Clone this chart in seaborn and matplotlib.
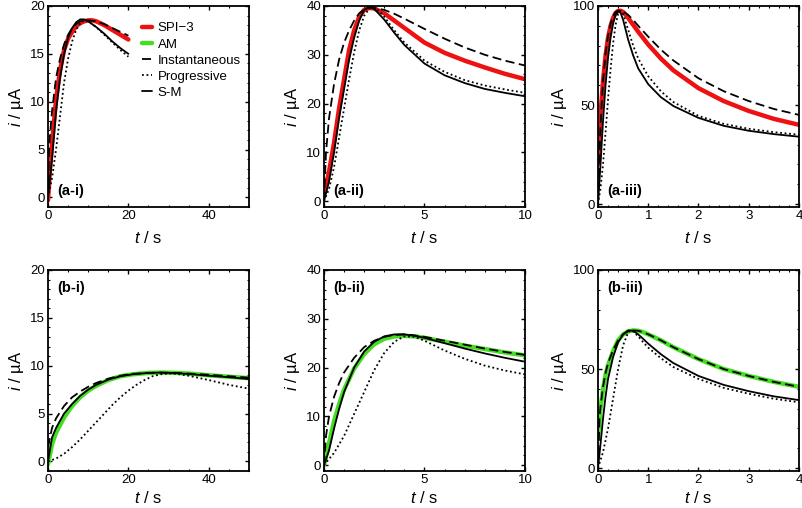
import numpy as np
import pandas as pd
import matplotlib
matplotlib.use("Agg")
import matplotlib.pyplot as plt
from matplotlib.lines import Line2D
import seaborn as sns

# ---------------- data ----------------
# Panel a-i
ai_spi_t = [0, 0.5, 1, 2, 3, 4, 5, 6, 7, 8, 9, 10, 11, 12, 14, 16, 18, 20]
ai_spi_i = [-0.3, 3.0, 5.6, 10.2, 13.3, 15.4, 16.6, 17.3, 17.9, 18.2, 18.4, 18.5, 18.5, 18.4, 18.0, 17.5, 17.0, 16.5]
ai_ins_t = [0, 0.3, 1, 2, 3, 4, 5, 6, 7, 8, 9, 10, 12, 14, 16, 18, 20]
ai_ins_i = [0, 5.5, 9.0, 12.5, 14.5, 16.0, 17.0, 17.7, 18.1, 18.4, 18.5, 18.5, 18.4, 18.1, 17.7, 17.3, 16.9]
ai_pro_t = [0, 1, 2, 3, 4, 5, 6, 7, 8, 9, 10, 12, 14, 16, 18, 20]
ai_pro_i = [0, 2.0, 5.0, 8.5, 12.0, 14.5, 16.3, 17.5, 18.2, 18.5, 18.4, 17.8, 17.0, 16.2, 15.4, 14.7]
ai_sm_t = [0, 1, 2, 3, 4, 5, 6, 7, 8, 9, 10, 12, 14, 16, 18, 20]
ai_sm_i = [0, 4.0, 9.0, 12.5, 15.0, 16.7, 17.7, 18.3, 18.6, 18.6, 18.4, 17.8, 17.1, 16.3, 15.6, 15.0]

# Panel a-ii
aii_spi_t = [0, 0.25, 0.5, 0.75, 1.0, 1.25, 1.5, 1.75, 2.0, 2.25, 2.5, 3, 3.5, 4, 5, 6, 7, 8, 9, 10]
aii_spi_i = [1.5, 6, 12, 19, 25, 31, 35, 37.8, 39.2, 39.6, 39.5, 38.5, 37.0, 35.5, 32.5, 30.4, 28.8, 27.4, 26.1, 25.0]
aii_ins_t = [0, 0.1, 0.25, 0.5, 0.75, 1.0, 1.25, 1.5, 1.75, 2.0, 2.25, 2.5, 3, 3.5, 4, 5, 6, 7, 8, 9, 10]
aii_ins_i = [0, 10, 17, 24, 29, 32.5, 35, 37, 38.5, 39.3, 39.6, 39.6, 39.2, 38.4, 37.4, 35.3, 33.3, 31.5, 30.0, 28.8, 27.8]
aii_pro_t = [0, 0.25, 0.5, 0.75, 1.0, 1.25, 1.5, 1.75, 2.0, 2.25, 2.5, 2.75, 3, 3.5, 4, 5, 6, 7, 8, 9, 10]
aii_pro_i = [0, 2.5, 7, 13, 19, 25, 30.5, 35, 38, 39.5, 39.6, 39.0, 37.8, 35.0, 32.5, 28.8, 26.5, 24.8, 23.7, 22.9, 22.2]
aii_sm_t = [0, 0.25, 0.5, 0.75, 1.0, 1.25, 1.5, 1.75, 2.0, 2.25, 2.5, 3, 3.5, 4, 5, 6, 7, 8, 9, 10]
aii_sm_i = [0, 4, 10, 17, 23, 29, 33.5, 37, 39.2, 39.8, 39.4, 37.2, 34.5, 32.0, 28.2, 25.8, 24.2, 23.0, 22.2, 21.5]

# Panel a-iii
aiii_spi_t = [0, 0.05, 0.1, 0.15, 0.2, 0.25, 0.3, 0.35, 0.4, 0.45, 0.5, 0.6, 0.7, 0.8, 1.0, 1.25, 1.5, 2.0, 2.5, 3, 3.5, 4]
aiii_spi_i = [20, 45, 62, 75, 84, 90, 94, 96.5, 97.5, 97.6, 97, 94, 90.5, 87, 80.5, 73.5, 67.5, 58.5, 52, 47, 43, 40]
aiii_ins_t = [0, 0.05, 0.1, 0.15, 0.2, 0.25, 0.3, 0.35, 0.4, 0.45, 0.5, 0.6, 0.7, 0.8, 1.0, 1.25, 1.5, 2.0, 2.5, 3, 3.5, 4]
aiii_ins_i = [0, 40, 62, 76, 85, 91, 95, 97, 97.7, 97.7, 97.3, 95.5, 93, 90, 84.5, 78, 72.5, 63.5, 57, 52, 48, 45]
aiii_pro_t = [0, 0.05, 0.1, 0.15, 0.2, 0.25, 0.3, 0.35, 0.4, 0.45, 0.5, 0.55, 0.6, 0.7, 0.8, 1.0, 1.25, 1.5, 2.0, 2.5, 3, 3.5, 4]
aiii_pro_i = [0, 8, 20, 36, 53, 68, 81, 90.5, 96, 97.6, 96, 92, 88, 80, 73.5, 64.5, 57, 51.5, 44.5, 40.5, 38, 36.3, 35]
aiii_sm_t = [0, 0.05, 0.1, 0.15, 0.2, 0.25, 0.3, 0.35, 0.4, 0.45, 0.5, 0.55, 0.6, 0.7, 0.8, 1.0, 1.25, 1.5, 2.0, 2.5, 3, 3.5, 4]
aiii_sm_i = [0, 20, 42, 60, 74, 84, 91, 95.5, 97.5, 96.5, 93, 88, 83, 75, 68.5, 60.5, 54, 49.5, 43.5, 39.5, 37, 35.3, 34]

# Panel b-i
bi_am_t = [0, 1, 2, 4, 6, 8, 10, 12, 15, 18, 21, 25, 28, 32, 36, 40, 45, 50]
bi_am_i = [-0.3, 1.8, 3.0, 4.6, 5.8, 6.7, 7.4, 7.9, 8.5, 8.9, 9.1, 9.25, 9.28, 9.25, 9.15, 9.0, 8.85, 8.7]
bi_ins_t = [0, 1, 2, 4, 6, 8, 10, 12, 15, 18, 21, 25, 28, 32, 36, 40, 45, 50]
bi_ins_i = [1.5, 3.5, 4.5, 5.8, 6.7, 7.3, 7.8, 8.2, 8.65, 8.95, 9.15, 9.25, 9.28, 9.25, 9.15, 9.05, 8.9, 8.75]
bi_pro_t = [0, 2, 4, 6, 8, 10, 12, 14, 16, 18, 20, 22, 24, 26, 28, 30, 32, 35, 40, 45, 50]
bi_pro_i = [0, 0.3, 0.8, 1.5, 2.3, 3.2, 4.1, 5.0, 5.9, 6.7, 7.4, 8.0, 8.5, 8.9, 9.1, 9.2, 9.15, 8.95, 8.5, 8.0, 7.6]
bi_sm_t = [0, 1, 2, 4, 6, 8, 10, 12, 15, 18, 21, 25, 28, 32, 36, 40, 45, 50]
bi_sm_i = [0, 2.5, 3.5, 5.0, 6.0, 6.85, 7.5, 8.0, 8.55, 8.9, 9.1, 9.25, 9.28, 9.22, 9.1, 8.95, 8.8, 8.6]

# Panel b-ii
bii_am_t = [0, 0.25, 0.5, 0.75, 1.0, 1.5, 2.0, 2.5, 3.0, 3.5, 4.0, 4.5, 5, 6, 7, 8, 9, 10]
bii_am_i = [0, 4.5, 9, 12.5, 15.5, 19.8, 22.8, 24.8, 25.9, 26.4, 26.5, 26.4, 26.1, 25.3, 24.5, 23.8, 23.1, 22.5]
bii_ins_t = [0, 0.1, 0.25, 0.5, 0.75, 1.0, 1.5, 2, 2.5, 3, 3.5, 4, 4.5, 5, 6, 7, 8, 9, 10]
bii_ins_i = [0, 6, 10, 14, 16.8, 19, 22, 24.2, 25.5, 26.3, 26.7, 26.8, 26.6, 26.3, 25.5, 24.7, 23.9, 23.2, 22.6]
bii_pro_t = [0, 0.5, 1.0, 1.5, 2, 2.5, 3, 3.5, 4, 4.5, 5, 6, 7, 8, 9, 10]
bii_pro_i = [0, 2.5, 6, 10.5, 15, 19.5, 23, 25.3, 26.4, 26.3, 25.5, 23.5, 21.8, 20.4, 19.4, 18.6]
bii_sm_t = [0, 0.25, 0.5, 0.75, 1.0, 1.5, 2.0, 2.5, 3, 3.5, 4, 4.5, 5, 6, 7, 8, 9, 10]
bii_sm_i = [0, 3, 7.5, 11.5, 15, 20, 23.3, 25.3, 26.4, 26.8, 26.8, 26.5, 26.1, 25.0, 23.9, 22.9, 22.0, 21.2]

# Panel b-iii
biii_am_t = [0, 0.05, 0.1, 0.15, 0.2, 0.3, 0.4, 0.5, 0.6, 0.7, 0.8, 0.9, 1.0, 1.25, 1.5, 2.0, 2.5, 3, 3.5, 4]
biii_am_i = [15, 30, 40, 47, 52, 59, 64.5, 67.5, 69, 69.5, 69.3, 68.6, 67.5, 64.5, 61, 55, 50, 46.5, 43.5, 41]
biii_ins_t = [0, 0.03, 0.05, 0.1, 0.15, 0.2, 0.3, 0.4, 0.5, 0.6, 0.7, 0.8, 0.9, 1.0, 1.25, 1.5, 2.0, 2.5, 3, 3.5, 4]
biii_ins_i = [0, 25, 31, 41, 48, 53, 59.5, 64.5, 67.5, 69, 69.5, 69.3, 68.6, 67.5, 64.5, 61, 55, 50, 46.5, 43.5, 41]
biii_pro_t = [0, 0.1, 0.2, 0.3, 0.4, 0.5, 0.6, 0.65, 0.7, 0.8, 0.9, 1.0, 1.25, 1.5, 2, 2.5, 3, 3.5, 4]
biii_pro_i = [0, 8, 20, 35, 50, 62, 68.5, 69.5, 69, 66.5, 63.5, 60.8, 55.5, 51, 45, 40.5, 37.5, 35, 33.2]
biii_sm_t = [0, 0.05, 0.1, 0.15, 0.2, 0.3, 0.4, 0.5, 0.6, 0.7, 0.8, 0.9, 1.0, 1.25, 1.5, 2.0, 2.5, 3, 3.5, 4]
biii_sm_i = [0, 12, 25, 36, 45, 56, 63.5, 67.5, 69.5, 69.3, 67.5, 65.2, 62.8, 57.5, 53, 46.5, 42, 38.8, 36.2, 34.3]

panel_labels = ["(a-i)", "(a-ii)", "(a-iii)", "(b-i)", "(b-ii)", "(b-iii)"]
x_limits = [50, 10, 4, 50, 10, 4]
y_limits = [20, 40, 100, 20, 40, 100]
x_ticks = [[0, 20, 40], [0, 5, 10], [0, 1, 2, 3, 4]] * 2
y_ticks = [[0, 5, 10, 15, 20], [0, 10, 20, 30, 40], [0, 50, 100]] * 2

series_names = ["SPI−3", "AM", "Instantaneous", "Progressive", "S-M"]

panels = [
    {"SPI−3": (ai_spi_t, ai_spi_i), "Instantaneous": (ai_ins_t, ai_ins_i),
     "Progressive": (ai_pro_t, ai_pro_i), "S-M": (ai_sm_t, ai_sm_i)},
    {"SPI−3": (aii_spi_t, aii_spi_i), "Instantaneous": (aii_ins_t, aii_ins_i),
     "Progressive": (aii_pro_t, aii_pro_i), "S-M": (aii_sm_t, aii_sm_i)},
    {"SPI−3": (aiii_spi_t, aiii_spi_i), "Instantaneous": (aiii_ins_t, aiii_ins_i),
     "Progressive": (aiii_pro_t, aiii_pro_i), "S-M": (aiii_sm_t, aiii_sm_i)},
    {"AM": (bi_am_t, bi_am_i), "Instantaneous": (bi_ins_t, bi_ins_i),
     "Progressive": (bi_pro_t, bi_pro_i), "S-M": (bi_sm_t, bi_sm_i)},
    {"AM": (bii_am_t, bii_am_i), "Instantaneous": (bii_ins_t, bii_ins_i),
     "Progressive": (bii_pro_t, bii_pro_i), "S-M": (bii_sm_t, bii_sm_i)},
    {"AM": (biii_am_t, biii_am_i), "Instantaneous": (biii_ins_t, biii_ins_i),
     "Progressive": (biii_pro_t, biii_pro_i), "S-M": (biii_sm_t, biii_sm_i)},
]

styles = {
    "SPI−3": dict(color="#ee1111", lw=3.2, ls="-", z=2),
    "AM": dict(color="#44dd22", lw=3.2, ls="-", z=2),
    "Instantaneous": dict(color="black", lw=1.3, ls=(0, (5, 2.5)), z=3),
    "Progressive": dict(color="black", lw=1.3, ls=(0, (1, 1.5)), z=3),
    "S-M": dict(color="black", lw=1.3, ls="-", z=3),
}

# ---------------- plotting ----------------
sns.set_theme(style="ticks")
plt.rcParams["font.family"] = ["Liberation Sans", "DejaVu Sans"]
plt.rcParams["mathtext.fontset"] = "custom"
plt.rcParams["mathtext.it"] = "Liberation Sans:italic"
plt.rcParams["mathtext.rm"] = "Liberation Sans"
for key in ["text.color", "axes.labelcolor", "xtick.color", "ytick.color",
            "axes.edgecolor"]:
    plt.rcParams[key] = "black"

fig = plt.figure(figsize=(8.03, 5.08), dpi=100)
lefts = [48 / 803, 324 / 803, 598 / 803]
w = 201 / 803
bottoms = [1 - 207 / 508, 1 - 471 / 508]
h = 201 / 508
ymin_frac = [0.05, 0.03, 0.015, 0.05, 0.03, 0.015]

for k in range(6):
    r, c = divmod(k, 3)
    ax = fig.add_axes([lefts[c], bottoms[r], w, h])
    for name, (t, i) in panels[k].items():
        st = styles[name]
        df = pd.DataFrame({"t": t, "i": i})
        sns.lineplot(data=df, x="t", y="i", ax=ax, color=st["color"], lw=st["lw"],
                     linestyle=st["ls"], estimator=None, sort=False, zorder=st["z"],
                     label=name)
    ax.set_xlim(0, x_limits[k])
    ax.set_ylim(-ymin_frac[k] * y_limits[k], y_limits[k])
    ax.set_xticks(x_ticks[k])
    ax.set_yticks(y_ticks[k])
    ax.tick_params(direction="in", length=3, width=1, labelsize=9.5, pad=2,
                   top=True, right=True, colors="black")
    ax.minorticks_on()
    ax.tick_params(which="minor", direction="in", length=1.5, width=0.8,
                   top=True, right=True, colors="black")
    for s in ax.spines.values():
        s.set_linewidth(1.3)
        s.set_color("black")
    ax.set_xlabel(r"$\mathit{t}$ / s", fontsize=12, labelpad=6 if r == 0 else 3,
                  color="black")
    ax.set_ylabel(r"$\mathit{i}$ / µA", fontsize=12, labelpad=3, color="black")
    if r == 0:
        ax.text(0.045, 0.08, panel_labels[k], transform=ax.transAxes,
                fontsize=10.5, fontweight="bold", ha="left", va="center", color="black")
    else:
        ax.text(0.045, 0.91, panel_labels[k], transform=ax.transAxes,
                fontsize=10.5, fontweight="bold", ha="left", va="center", color="black")
    if ax.get_legend() is not None:
        ax.get_legend().remove()
    if k == 0:
        handles = [Line2D([], [], color=styles[n]["color"],
                          lw=styles[n]["lw"], ls=styles[n]["ls"]) for n in series_names]
        leg = ax.legend(handles, series_names, loc="upper left",
                        bbox_to_anchor=(0.468, 0.92), frameon=False, fontsize=9.5,
                        handlelength=0.75, handletextpad=0.45, labelspacing=0.3,
                        borderaxespad=0, borderpad=0)
        for txt in leg.get_texts():
            txt.set_color("black")

fig.savefig("out.png", dpi=100)
